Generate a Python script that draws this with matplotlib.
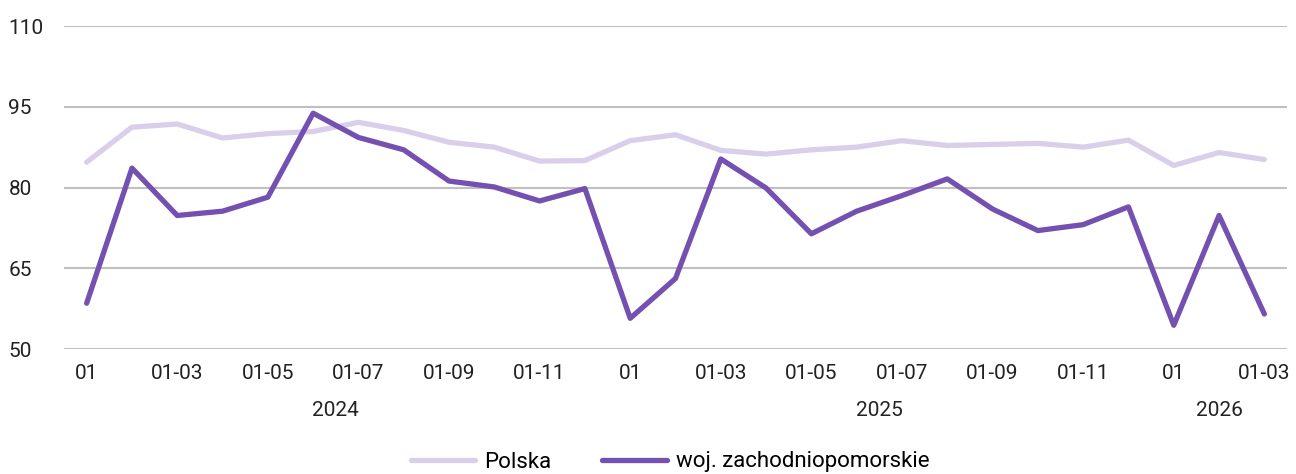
import matplotlib
matplotlib.use("Agg")
import matplotlib.pyplot as plt

plt.rcParams['font.family'] = ['Roboto', 'DejaVu Sans']

tick_labels = ["01", "01-03", "01-05", "01-07", "01-09", "01-11",
               "01", "01-03", "01-05", "01-07", "01-09", "01-11",
               "01", "01-03"]
years = ["2024", "2025", "2026"]
year_centers = [5.5, 17.5, 25]

polska = [84.7, 91.2, 91.8, 89.2, 90.0, 90.4, 92.1, 90.6, 88.4, 87.5,
          84.9, 85.0, 88.7, 89.8, 86.9, 86.2, 87.0, 87.5, 88.7, 87.8,
          88.0, 88.2, 87.5, 88.8, 84.1, 86.5, 85.2]
zachodnio = [58.5, 83.6, 74.8, 75.6, 78.2, 93.8, 89.3, 87.0, 81.2, 80.1,
             77.5, 79.8, 55.7, 63.1, 85.3, 79.9, 71.4, 75.6, 78.5, 81.6,
             76.0, 72.0, 73.1, 76.4, 54.4, 74.8, 56.5]

W, H = 1296, 474
fig = plt.figure(figsize=(W/100, H/100), dpi=100)
ax = fig.add_axes([64/W, 1-349/H, (1287-64)/W, (349-26)/H])

x = list(range(len(polska)))
ax.plot(x, polska, color="#dacfeb", lw=3.8, solid_capstyle="round", label="Polska", zorder=3)
ax.plot(x, zachodnio, color="#7451b0", lw=3.8, solid_capstyle="round",
        label="woj. zachodniopomorskie", zorder=4)

ax.set_xlim(-0.5, 26.5)
ax.set_ylim(50, 110)
ax.set_yticks([50, 65, 80, 95, 110])
ax.grid(axis="y", color="#c0c0c0", lw=1.5)
ax.set_axisbelow(True)
for s in ax.spines.values():
    s.set_visible(False)
ax.tick_params(axis="y", length=0, pad=40, labelsize=15, colors="#222222")
for t in ax.get_yticklabels():
    t.set_horizontalalignment("left")
ax.set_xticks(range(0, 27, 2))
ax.set_xticklabels(tick_labels)
ax.tick_params(axis="x", length=0, pad=11, labelsize=15, colors="#222222")

for yr, c in zip(years, year_centers):
    ax.text(c, -0.19, yr, transform=ax.get_xaxis_transform(), ha="center",
            va="center", fontsize=15, color="#222222")

fig.legend(loc="center", bbox_to_anchor=(670/W, 1-462/H), ncol=2, frameon=False,
           fontsize=16, handlelength=2.9, columnspacing=2.3, handletextpad=0.4)

fig.savefig("out.png", dpi=100)
